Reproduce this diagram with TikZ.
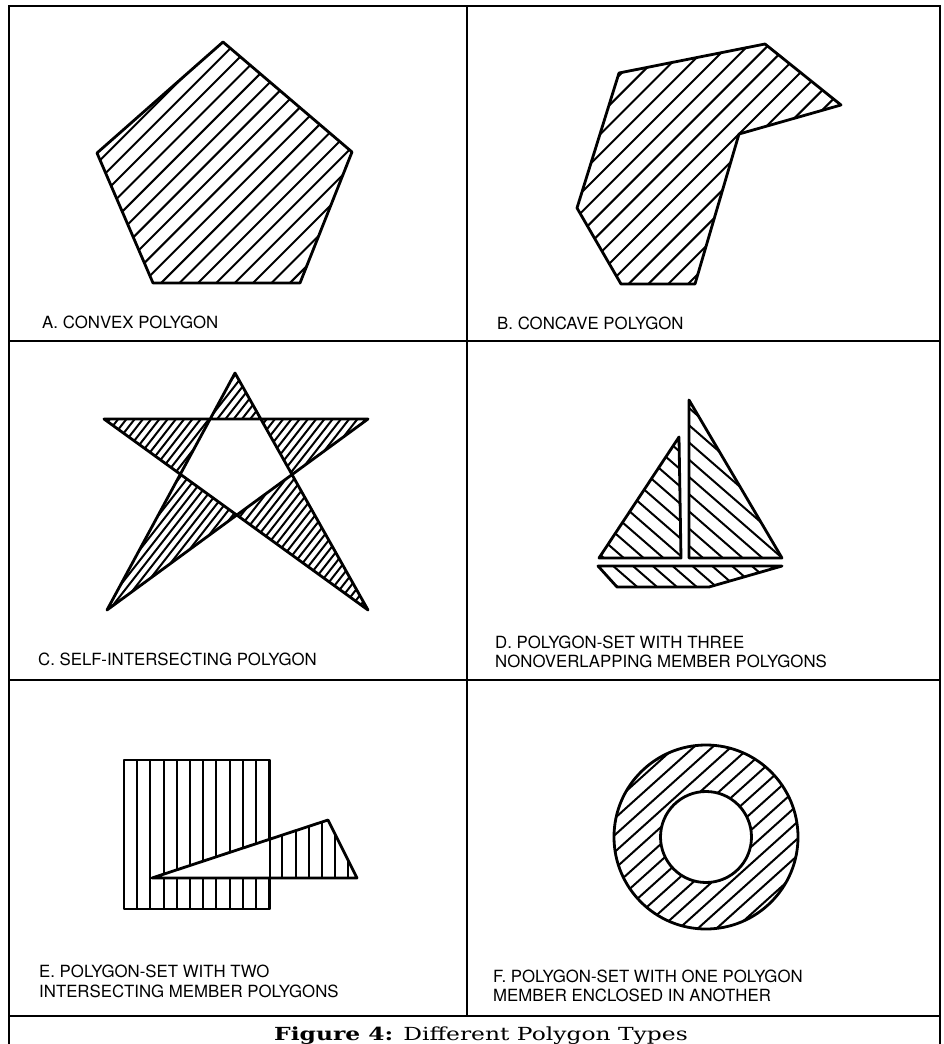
\documentclass[tikz,border=0pt]{standalone}
\usepackage{fontspec}
\setsansfont{TeX Gyre Heros}
\newfontfamily\capfont{DejaVu Serif}
\tikzset{
  x=1pt, y=-1pt,
  frameline/.style={line width=1.5pt, black},
  outline/.style={line width=2.8pt, line join=round, black},
  hatchline/.style={line width=2pt, black},
  lab/.style={font=\sffamily\fontsize{16.8}{19}\selectfont, inner sep=0pt, anchor=base west},
}
\newcommand{\hatchlines}[5]{%
  \foreach \k in {-#5,...,#5}{%
    \pgfmathsetmacro{\hax}{#1+\k*#4*sin(#3)-500*cos(#3)}%
    \pgfmathsetmacro{\hay}{#2+\k*#4*cos(#3)+500*sin(#3)}%
    \pgfmathsetmacro{\hbx}{#1+\k*#4*sin(#3)+500*cos(#3)}%
    \pgfmathsetmacro{\hby}{#2+\k*#4*cos(#3)-500*sin(#3)}%
    \draw[hatchline] (\hax,\hay) -- (\hbx,\hby);
  }}
\begin{document}
\begin{tikzpicture}
\useasboundingbox (0,0) rectangle (944,1044);
\fill[white] (0,0) rectangle (944,1044);
% frame
\draw[frameline] (9,1044) -- (9,6) -- (940,6) -- (940,1044);
\draw[frameline] (467,6) -- (467,1016);
\draw[frameline] (9,341) -- (940,341);
\draw[frameline] (9,680) -- (940,680);
\draw[frameline] (9,1016) -- (940,1016);

% A convex pentagon
\begin{scope}
\clip (223,42) -- (352,152) -- (300,283) -- (153,283) -- (97,153) -- cycle;
\hatchlines{224}{165}{45}{13}{16}
\end{scope}
\draw[outline] (223,42) -- (352,152) -- (300,283) -- (153,283) -- (97,153) -- cycle;
\node[lab] (labA) at (42,328) {A. CONVEX POLYGON};

% B concave polygon
\begin{scope}
\clip (619,73) -- (765,44) -- (841,105) -- (739,134) -- (695,284) -- (621,284) -- (577,208) -- cycle;
\hatchlines{709}{164}{45}{14}{16}
\end{scope}
\draw[outline] (619,73) -- (765,44) -- (841,105) -- (739,134) -- (695,284) -- (621,284) -- (577,208) -- cycle;
\node[lab] (labB) at (497,329) {B. CONCAVE POLYGON};

% C star
\begin{scope}[even odd rule]
\clip (235,373) -- (107,610) -- (368,419) -- (104,419) -- (368,610) -- cycle;
\hatchlines{236}{490}{52}{6.5}{34}
\end{scope}
\draw[outline] (235,373) -- (107,610) -- (368,419) -- (104,419) -- (368,610) -- cycle;
\node[lab] (labC) at (38,665) {C. SELF-INTERSECTING POLYGON};

% D sailboat
\begin{scope}
\clip (689,400) -- (689,558) -- (782,558) -- cycle
      (679,437) -- (599,558) -- (681,558) -- cycle
      (598,566) -- (782,566) -- (709,587) -- (617,587) -- cycle;
\hatchlines{690}{495}{-41}{13}{14}
\end{scope}
\draw[outline] (689,400) -- (689,558) -- (782,558) -- cycle;
\draw[outline] (679,437) -- (599,558) -- (681,558) -- cycle;
\draw[outline] (598,566) -- (782,566) -- (709,587) -- (617,587) -- cycle;
\node[lab] (labD1) at (495,648) {D. POLYGON-SET WITH THREE};
\node[lab] (labD2) at (495,667) {NONOVERLAPPING MEMBER POLYGONS};

% E intersecting polygons
\begin{scope}[even odd rule]
\clip (124,760) rectangle (270,909)
      (152,878) -- (328,820) -- (357,878) -- cycle;
\foreach \k in {0,...,18}{
  \draw[hatchline] (124+13.2*\k,700) -- (124+13.2*\k,950);
}
\end{scope}
\draw[outline] (124,760) rectangle (270,909);
\draw[outline] (152,878) -- (328,820) -- (357,878) -- cycle;
\node[lab] (labE1) at (39,977) {E. POLYGON-SET WITH TWO};
\node[lab] (labE2) at (39,997) {INTERSECTING MEMBER POLYGONS};

% F annulus
\begin{scope}[even odd rule]
\clip (706,837) circle[radius=92] (706,837) circle[radius=45.5];
\hatchlines{706}{837}{42}{12.5}{9}
\end{scope}
\draw[outline] (706,837) circle[radius=92];
\draw[outline] (706,837) circle[radius=45.5];
\node[lab] (labF1) at (493,982) {F. POLYGON-SET WITH ONE POLYGON};
\node[lab] (labF2) at (493,1001) {MEMBER ENCLOSED IN ANOTHER};

% caption
\node[font=\capfont\fontsize{18}{22}\selectfont, inner sep=0pt, anchor=base] (cap) at (481,1040) {\scalebox{1.3}[1]{\textbf{Figure 4:} Different Polygon Types}};
\end{tikzpicture}
\end{document}
